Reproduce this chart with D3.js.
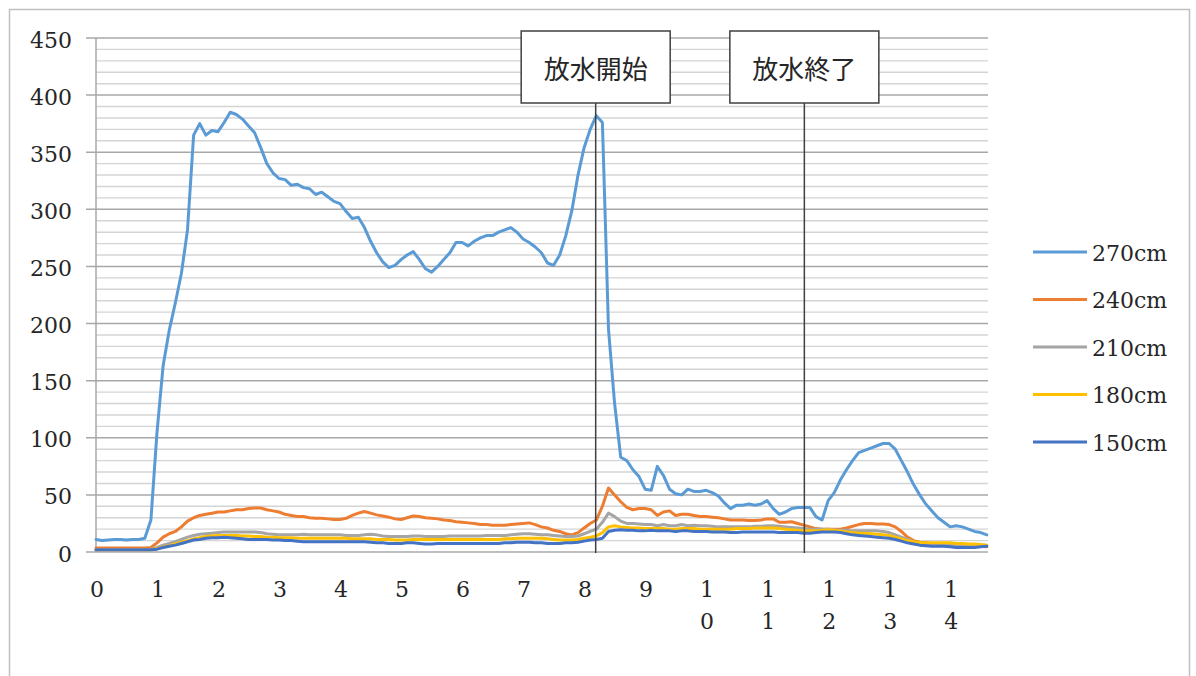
<!DOCTYPE html>
<html>
<head>
<meta charset="utf-8">
<script src="https://cdn.jsdelivr.net/npm/d3@7"></script>
<style>
  html, body { margin: 0; padding: 0; background: #fff; }
  svg { display: block; }
</style>
</head>
<body>
<svg id="chart" width="1196" height="676"></svg>
<script>
// Elapsed time (hours), sampled every 0.1 h
const hours = d3.range(147).map(i => i / 10);

const seriesNames  = ["270cm", "240cm", "210cm", "180cm", "150cm"];
const seriesColors = ["#5B9BD5", "#ED7D31", "#A5A5A5", "#FFC000", "#4472C4"];

const v270 = [
  11, 10, 10.5, 11, 11, 10.5, 11, 11, 12, 28,
  105, 163, 194, 218, 244, 282, 365, 375, 365, 369,
  368, 376, 385, 383, 379, 373, 367, 354, 340, 332,
  327, 326, 321, 322, 319, 318, 313, 315, 311, 307,
  305, 298, 292, 293, 284, 272, 262, 254, 249, 251,
  256, 260, 263, 256, 248, 245, 250, 256, 262, 271,
  271, 268, 272, 275, 277, 277, 280, 282, 284, 280,
  274, 271, 267, 262, 253, 251, 260, 277, 299, 330,
  354, 370, 382, 376, 195, 130, 83, 80, 72, 66,
  55, 54, 75, 67, 55, 51, 50, 55, 53, 53,
  54, 52, 49, 43, 38, 41, 41, 42, 41, 42,
  45, 38, 33, 35, 38, 39, 39, 39, 31, 28,
  45, 52, 63, 72, 80, 87, 89, 91, 93, 95,
  95, 90, 80, 70, 59, 50, 42, 36, 30, 26,
  22, 23, 22, 20, 18, 17, 15
];

const v240 = [
  3.5, 3.5, 3.5, 3.5, 3.5, 3.5, 3.5, 3.5, 3.5, 4,
  8, 13, 16, 18, 22, 27, 30, 32, 33, 34,
  35, 35, 36, 37, 37, 38, 38.5, 38.5, 37, 36,
  35, 33, 32, 31, 31, 30, 29.5, 29.5, 29, 28.5,
  28.5, 29.5, 32, 34, 35.5, 34, 32.5, 31.5, 30.5, 29,
  28.5, 30, 31.5, 31, 30, 29.5, 29, 28, 27.5, 26.5,
  26, 25.5, 25, 24, 24, 23.5, 23.5, 23.5, 24, 24.5,
  25, 25.5, 24, 22, 21, 19, 18, 16, 15, 17,
  21, 25, 28, 40, 56, 50, 44, 39, 37, 38,
  38, 37, 32, 35, 36, 32, 33, 33, 32, 31,
  31, 30.5, 30, 29, 28, 28, 28, 27.5, 27.5, 28,
  29, 29, 26, 26, 26.5, 25, 23.5, 22, 20.5, 20,
  20, 20, 20, 21, 22.5, 24, 25, 25, 24.5, 24.5,
  24, 22, 18, 13, 10, 8.5, 8, 7.5, 7.5, 7.5,
  7, 6.5, 6, 5.5, 5, 5, 4.7
];

const v210 = [
  2, 2, 2, 2, 2, 2, 2, 2, 2, 2.5,
  4, 6, 7.5, 9, 11, 13, 14.5, 15.5, 16, 16.5,
  17, 17.5, 17.5, 17.5, 17.5, 17.5, 17.5, 17, 16, 15.5,
  15, 15, 15, 15, 15.5, 15, 15, 15, 15, 15,
  15, 14.5, 14.5, 14.5, 15, 15.5, 15, 14, 13.5, 13.5,
  13.5, 13.5, 14, 14, 13.5, 13.5, 13.5, 13.5, 14, 14,
  14, 14, 14, 14, 14.5, 14.5, 14.5, 14.5, 15, 15.5,
  16, 16, 15.5, 15, 15, 14.5, 14, 13.5, 13.5, 14,
  16, 18, 20, 26, 34, 31, 27, 25, 25, 24.5,
  24, 24, 23, 24, 23, 23, 24, 23, 23.5, 23,
  23, 22.5, 22, 22, 22, 22, 22, 22, 22.5, 22.5,
  23, 23, 22.5, 22, 21.5, 21, 20.5, 20, 20, 20,
  20, 19.5, 19, 19, 18.5, 18.5, 18.5, 18.5, 18.5, 18,
  17, 15, 13, 11, 9, 8, 7.5, 7, 7, 7,
  6.5, 6.5, 6, 6, 6, 6, 6
];

const v180 = [
  2, 2, 2, 2, 2, 2, 2, 2, 2, 2,
  3, 4.5, 5.5, 7, 8.5, 10, 11.5, 12.5, 13.5, 14,
  14.5, 14.5, 14.5, 14.5, 14, 14, 13.5, 13.5, 13, 13,
  12.5, 12.5, 12.5, 12, 12, 12, 12, 12, 12, 12,
  12, 12, 11.5, 11.5, 11.5, 11.5, 11, 11, 11, 10.5,
  10.5, 10.5, 11, 11, 11, 11, 11, 11, 11, 11,
  11, 11, 11, 11, 11, 11, 11, 11.5, 11.5, 12,
  12, 12, 12, 12, 11.5, 11, 10.5, 10.5, 10.5, 11,
  12, 13, 14, 17, 22, 23, 22, 21.5, 21, 21,
  20.5, 20.5, 20.5, 20.5, 20, 20, 20.5, 20.5, 20.5, 20,
  20, 20, 20, 20, 20, 20.5, 20.5, 20.5, 21, 21,
  21, 21, 20.5, 20, 19.5, 19, 18.5, 18.5, 18.5, 19,
  19.5, 19, 18.5, 17.5, 17, 16.5, 16.5, 16, 15.5, 15,
  14.5, 13, 11.5, 10, 9, 8.5, 8, 8, 8, 8,
  8, 7.5, 7.5, 7, 7, 6.5, 6
];

const v150 = [
  2, 2, 2, 2, 2, 2, 2, 2, 2, 2,
  2.5, 4, 5, 6, 7.5, 9, 10.5, 11, 12, 12.5,
  12.5, 13, 12.5, 12, 11.5, 11, 11, 11, 11, 10.5,
  10.5, 10, 10, 9.5, 9, 9, 9, 9, 9, 9,
  9, 9, 9, 9, 9, 8.5, 8, 8, 7.5, 7.5,
  7.5, 8, 8, 7.5, 7, 7, 7.5, 7.5, 7.5, 7.5,
  7.5, 7.5, 7.5, 7.5, 7.5, 7.5, 7.5, 8, 8, 8.5,
  8.5, 8.5, 8, 8, 7.5, 7.5, 7.5, 8, 8, 8.5,
  9.5, 10.5, 11, 12, 18, 19, 19.5, 19, 19, 18.5,
  18.5, 19, 18.5, 18.5, 18.5, 18, 18.5, 18.5, 18, 18,
  18, 17.5, 17.5, 17.5, 17, 17, 17.5, 17.5, 17.5, 17.5,
  17.5, 17.5, 17, 17, 17, 17, 16.5, 16.5, 17, 17.5,
  17.5, 17.5, 17, 16, 15, 14.5, 14, 13.5, 13, 12.5,
  12, 11, 9.5, 8, 7, 6, 5.5, 5, 5, 5,
  4.5, 4, 4, 4, 4, 4.5, 5
];

const seriesValues = [v270, v240, v210, v180, v150];

// Axis ticks
const xTickHours  = [0, 1, 2, 3, 4, 5, 6, 7, 8, 9, 10, 11, 12, 13, 14];
const xTickLabels = ["0", "1", "2", "3", "4", "5", "6", "7", "8", "9", "10", "11", "12", "13", "14"];
const yMajorTicks = [0, 50, 100, 150, 200, 250, 300, 350, 400, 450];
const yMinorTicks = d3.range(0, 451, 10).filter(v => v % 50 !== 0);

// Water release start / end
const eventLabels = ["放水開始", "放水終了"];
const eventHours  = [8.19, 11.61];

const svg = d3.select("#chart");
const serif = "'DejaVu Serif', serif";

// Outer chart border
svg.append("rect")
  .attr("x", 9.5).attr("y", 9.5)
  .attr("width", 1180).attr("height", 720)
  .attr("fill", "#fff")
  .attr("stroke", "#BFBFBF").attr("stroke-width", 1.5);

const x = d3.scaleLinear().domain([0, 14.62]).range([96, 988]);
const y = d3.scaleLinear().domain([0, 450]).range([552, 38]);

// Gridlines
const grid = svg.append("g");
grid.selectAll("line.minor").data(yMinorTicks).join("line")
  .attr("class", "minor")
  .attr("x1", x(0)).attr("x2", x(14.62))
  .attr("y1", d => y(d)).attr("y2", d => y(d))
  .attr("stroke", "#D4D4D4").attr("stroke-width", 1.4);
grid.selectAll("line.major").data(yMajorTicks).join("line")
  .attr("class", "major")
  .attr("x1", x(0) - 10).attr("x2", x(14.62))
  .attr("y1", d => y(d)).attr("y2", d => y(d))
  .attr("stroke", "#A8A8A8").attr("stroke-width", 1.5);

// Vertical axis line
svg.append("line")
  .attr("x1", x(0)).attr("x2", x(0))
  .attr("y1", y(450)).attr("y2", y(0))
  .attr("stroke", "#A8A8A8").attr("stroke-width", 1.5);

// Y tick labels
svg.append("g").selectAll("text").data(yMajorTicks).join("text")
  .attr("x", 72).attr("y", d => y(d) + 2)
  .attr("text-anchor", "end")
  .attr("dominant-baseline", "central")
  .attr("font-family", serif).attr("font-size", 22)
  .attr("fill", "#262626")
  .text(d => d);

// X tick labels: multi-digit labels are stacked one character per line
const xl = svg.append("g");
xTickLabels.forEach((lab, i) => {
  const t = xl.append("text")
    .attr("text-anchor", "middle")
    .attr("font-family", serif).attr("font-size", 22)
    .attr("fill", "#262626");
  lab.split("").forEach((ch, j) => {
    t.append("tspan")
      .attr("x", x(xTickHours[i]) + 1)
      .attr("y", 597 + j * 32)
      .text(ch);
  });
});

// Series lines
const line = d3.line()
  .x((d, i) => x(hours[i]))
  .y(d => y(d));

svg.append("g").selectAll("path").data(seriesValues).join("path")
  .attr("d", d => line(d))
  .attr("fill", "none")
  .attr("stroke", (d, i) => seriesColors[i])
  .attr("stroke-width", 3)
  .attr("stroke-linejoin", "round")
  .attr("stroke-linecap", "round");

// Event markers
const boxW = 149, boxH = 72, boxTop = 31;
const ev = svg.append("g");
eventLabels.forEach((lab, i) => {
  const cx = x(eventHours[i]);
  ev.append("line")
    .attr("x1", cx).attr("x2", cx)
    .attr("y1", boxTop + boxH).attr("y2", y(0) + 1)
    .attr("stroke", "#404040").attr("stroke-width", 1.5);
  ev.append("rect")
    .attr("x", cx - boxW / 2).attr("y", boxTop)
    .attr("width", boxW).attr("height", boxH)
    .attr("fill", "#fff")
    .attr("stroke", "#404040").attr("stroke-width", 1.5);
  ev.append("text")
    .attr("x", cx).attr("y", boxTop + boxH / 2)
    .attr("text-anchor", "middle")
    .attr("dominant-baseline", "central")
    .attr("font-family", "'Noto Sans CJK JP', sans-serif")
    .attr("font-size", 26)
    .attr("fill", "#262626")
    .text(lab);
});

// Legend
const legendTop = 252, legendStep = 47.5;
const lg = svg.append("g");
seriesNames.forEach((name, i) => {
  const ly = legendTop + i * legendStep;
  lg.append("line")
    .attr("x1", 1033).attr("x2", 1087)
    .attr("y1", ly).attr("y2", ly)
    .attr("stroke", seriesColors[i]).attr("stroke-width", 3);
  lg.append("text")
    .attr("x", 1092).attr("y", ly + 1)
    .attr("dominant-baseline", "central")
    .attr("font-family", serif).attr("font-size", 22)
    .attr("fill", "#262626")
    .text(name);
});
</script>
</body>
</html>
